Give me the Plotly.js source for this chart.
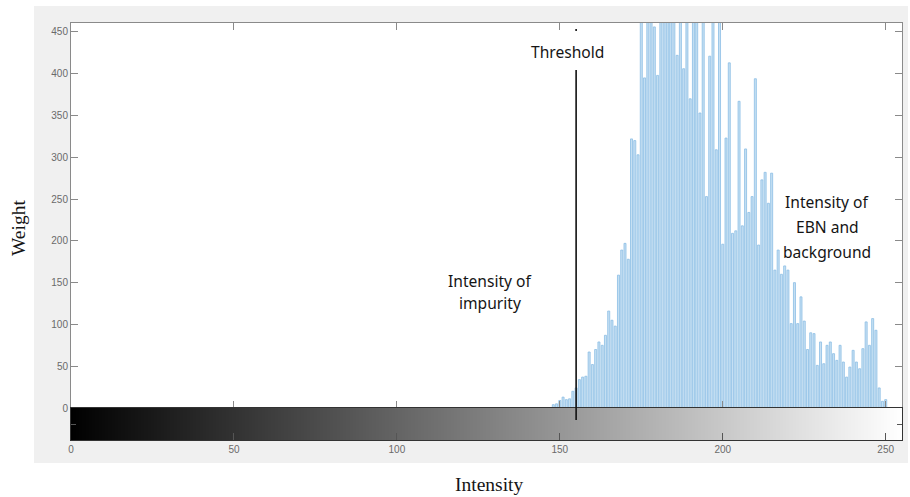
<!DOCTYPE html>
<html><head><meta charset="utf-8">
<script src="https://cdn.plot.ly/plotly-3.0.1.min.js"></script>
<style>html,body{margin:0;padding:0;background:#fff;}#chart{width:910px;height:497px;}</style>
</head><body><div id="chart"></div>
<script>
// ---- data ----
const FIRST_INTENSITY = 148;           // first grey level with a non-zero count
const COUNTS = [
  4, 5, 9, 13, 10, 11, 20, 24, 34, 37,            // 148-157
  38, 67, 52, 70, 79, 75, 87, 116, 105, 98,       // 158-167
  159, 189, 197, 178, 322, 320, 303, 560, 395, 600, // 168-177
  640, 456, 398, 580, 620, 700, 650, 590, 422, 610, // 178-187
  406, 560, 370, 540, 600, 353, 530, 253, 421, 520, // 188-197
  309, 500, 196, 323, 413, 209, 212, 367, 218, 310, // 198-207
  234, 253, 394, 195, 273, 282, 245, 281, 165, 189, // 208-217
  160, 170, 165, 101, 150, 101, 133, 104, 70, 90,   // 218-227
  89, 51, 79, 53, 75, 79, 65, 57, 75, 55,           // 228-237
  37, 49, 69, 55, 47, 71, 103, 75, 107, 93,         // 238-247
  24, 8, 10                                         // 248-250
];
const THRESHOLD = 155;
const X_TICKS = [0, 50, 100, 150, 200, 250];
const Y_TICKS = [0, 50, 100, 150, 200, 250, 300, 350, 400, 450];
const GREY_LEVELS = 256;
const LABEL_THRESHOLD = 'Threshold';
const LABEL_IMPURITY = ['Intensity of', 'impurity'];
const LABEL_EBN = ['Intensity of', 'EBN and', 'background'];
const X_TITLE = 'Intensity';
const Y_TITLE = 'Weight';

// ---- derived ----
const intensities = COUNTS.map((_, i) => FIRST_INTENSITY + i);
const levels = Array.from({length: GREY_LEVELS}, (_, i) => i);

// pixel helpers (plot area: l=71, r=902, t=23, b=440)
const PL = 71, PR = 902, PT = 23, PB = 440;
const px = v => (v - PL) / (PR - PL);
const py = v => (PB - v) / (PB - PT);

const tickFont = {family: 'Liberation Sans, Arial, sans-serif', size: 10, color: '#6a6a6a'};
const noteFont = {family: 'Noto Sans, sans-serif', size: 15.6, color: '#151515'};
const titleFont = {family: 'Liberation Serif, serif', size: 19.5, color: '#151515'};

const traces = [
  {
    type: 'bar', x: intensities, y: COUNTS, xaxis: 'x', yaxis: 'y',
    width: 0.62,
    marker: {color: 'rgb(198,224,243)', line: {color: 'rgb(140,190,228)', width: 0.8}},
    hoverinfo: 'x+y'
  },
  {
    type: 'heatmap', x: levels, y: [0.5], z: [levels], xaxis: 'x2', yaxis: 'y2',
    zmin: 0, zmax: GREY_LEVELS - 1, showscale: false,
    colorscale: [[0, 'rgb(0,0,0)'], [1, 'rgb(255,255,255)']]
  }
];

const histBottom = py(408);

const annotations = [
  {text: LABEL_THRESHOLD, x: px(567), y: py(52)},
  {text: LABEL_IMPURITY[0], x: px(490), y: py(281)},
  {text: LABEL_IMPURITY[1], x: px(490), y: py(303)},
  {text: LABEL_EBN[0], x: px(827), y: py(202)},
  {text: LABEL_EBN[1], x: px(827), y: py(227)},
  {text: LABEL_EBN[2], x: px(827), y: py(252)}
].map(a => Object.assign({xref: 'paper', yref: 'paper', showarrow: false,
  xanchor: 'center', yanchor: 'middle', font: noteFont}, a));

annotations.push({text: X_TITLE, x: px(489), y: py(484), xref: 'paper', yref: 'paper',
  showarrow: false, xanchor: 'center', yanchor: 'middle', font: titleFont});
annotations.push({text: Y_TITLE, x: px(18), y: py(228), xref: 'paper', yref: 'paper',
  showarrow: false, xanchor: 'center', yanchor: 'middle', textangle: -90, font: titleFont});

const layout = {
  width: 910, height: 497,
  margin: {l: 71, r: 8, t: 23, b: 57},
  paper_bgcolor: '#ffffff', plot_bgcolor: '#ffffff',
  showlegend: false,
  xaxis: {
    domain: [0, 1], anchor: 'y', range: [0, 255], tickvals: X_TICKS,
    ticks: 'inside', ticklen: 7, tickcolor: '#8a8a8a', tickwidth: 1,
    showticklabels: false, showline: true, linecolor: '#8a8a8a', linewidth: 1,
    mirror: 'ticks', showgrid: false, zeroline: false
  },
  yaxis: {
    domain: [histBottom, 1], anchor: 'x', range: [0, 460.7], tickvals: Y_TICKS,
    ticks: 'inside', ticklen: 7, tickcolor: '#8a8a8a', tickwidth: 1,
    tickfont: tickFont, showline: true, linecolor: '#8a8a8a', linewidth: 1,
    mirror: 'ticks', showgrid: false, zeroline: false
  },
  xaxis2: {
    domain: [0, 1], anchor: 'y2', range: [0, 255], tickvals: X_TICKS,
    ticks: 'inside', ticklen: 7, tickcolor: '#555', tickwidth: 1,
    tickfont: tickFont, showline: true, linecolor: '#333', linewidth: 1,
    mirror: true, showgrid: false, zeroline: false
  },
  yaxis2: {
    domain: [0, histBottom], anchor: 'x2', range: [0, 1], tickvals: [0.5],
    ticks: 'inside', ticklen: 5, tickcolor: '#555', showticklabels: false,
    showline: true, linecolor: '#333', linewidth: 1, mirror: 'ticks',
    showgrid: false, zeroline: false
  },
  shapes: [
    {type: 'rect', xref: 'paper', yref: 'paper', layer: 'below',
     x0: px(34), x1: px(908), y0: py(463), y1: py(6),
     fillcolor: '#f0f0f0', line: {width: 0}},
    {type: 'rect', xref: 'paper', yref: 'paper', layer: 'below',
     x0: 0, x1: 1, y0: 0, y1: 1,
     fillcolor: '#ffffff', line: {width: 0}},
    {type: 'line', xref: 'x', yref: 'paper', x0: THRESHOLD, x1: THRESHOLD,
     y0: py(420), y1: py(70), line: {color: '#111', width: 1.6}},
    {type: 'line', xref: 'x', yref: 'paper', x0: THRESHOLD, x1: THRESHOLD,
     y0: py(31), y1: py(29), line: {color: '#111', width: 1.6}}
  ],
  annotations: annotations
};

Plotly.newPlot('chart', traces, layout, {displayModeBar: false, staticPlot: true});
</script>
</body></html>
